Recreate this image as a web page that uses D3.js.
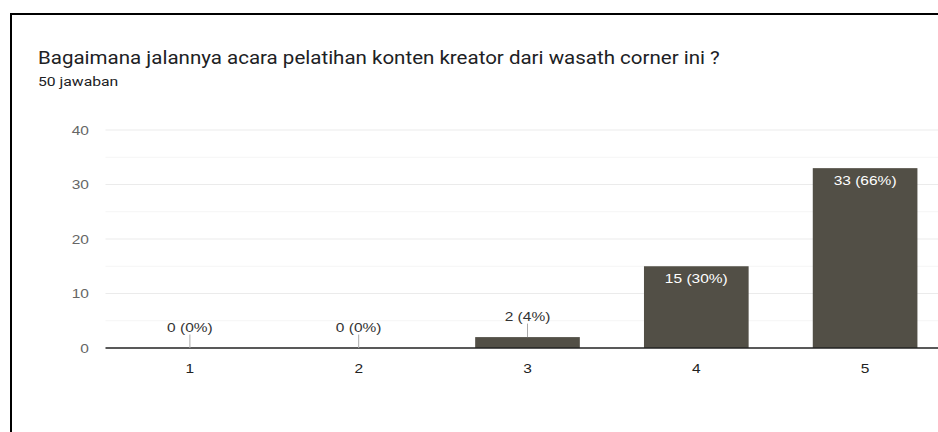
<!DOCTYPE html>
<html><head><meta charset="utf-8">
<script src="https://cdn.jsdelivr.net/npm/d3@7"></script>
<style>html,body{margin:0;padding:0;background:#fff;overflow:hidden}</style>
</head><body>
<script>
const categories = ["1","2","3","4","5"];
const counts = [0,0,2,15,33];
const percents = ["0%","0%","4%","30%","66%"];
const yTicks = [0,10,20,30,40];
const minorTicks = [5,15,25,35];
const title = "Bagaimana jalannya acara pelatihan konten kreator dari wasath corner ini ?";
const subtitle = "50 jawaban";

const W = 938, H = 432;
const svg = d3.select("body").append("svg").attr("width", W).attr("height", H);
const SX = 1.24;
const font = "Arial, 'Liberation Sans', sans-serif";

function txt(parent, x, y, s, opts) {
  const sx = opts.sx || SX;
  const t = parent.append("text")
    .attr("transform", `translate(${x},${y}) scale(${sx},1)`)
    .attr("text-anchor", opts.anchor || "start")
    .attr("font-family", opts.family || font)
    .attr("font-size", opts.size || 12.5)
    .attr("fill", opts.fill || "#333")
    .text(s);
  return t;
}

svg.append("rect").attr("x",11).attr("y",14).attr("width",1000).attr("height",600)
  .attr("fill","#fff").attr("stroke","#000").attr("stroke-width",2);

txt(svg, 38, 64, title, {family:"Roboto, Arial, sans-serif", size:18, fill:"#202124", sx:1.14});
txt(svg, 38, 85.5, subtitle, {family:"Roboto, Arial, sans-serif", size:12, fill:"#202124", sx:1.31});

const x0 = 105.5, x1 = 949.5, yTop = 130, yBase = 348;
const x = d3.scaleBand().domain(categories).range([x0,x1]).paddingInner(0.38).paddingOuter(0.19);
const y = d3.scaleLinear().domain([0,40]).range([yBase,yTop]);

const g = svg.append("g");
g.selectAll("line.minor").data(minorTicks).join("line")
  .attr("x1",x0).attr("x2",W).attr("y1",d=>y(d)).attr("y2",d=>y(d))
  .attr("stroke","#f5f5f5").attr("stroke-width",1);
g.selectAll("line.major").data(yTicks.filter(d=>d>0)).join("line")
  .attr("x1",x0).attr("x2",W).attr("y1",d=>y(d)).attr("y2",d=>y(d))
  .attr("stroke","#ebebeb").attr("stroke-width",1.2);

// y axis labels via d3 axis ticks
const yAxis = d3.axisLeft(y).tickValues(yTicks).tickSize(0).tickPadding(0);
const ya = svg.append("g").attr("transform","translate(89,0)").call(yAxis);
ya.select(".domain").remove();
ya.selectAll(".tick text")
  .attr("x",0).attr("dy","0.33em")
  .attr("transform",`scale(${SX},1)`)
  .attr("font-family",font).attr("font-size",12.5).attr("fill","#666");

const data = categories.map((c,i)=>({c, v:counts[i], p:percents[i]}));
const bw = x.bandwidth();

g.selectAll("rect.bar").data(data.filter(d=>d.v>0)).join("rect")
  .attr("x",d=>x(d.c)).attr("y",d=>y(d.v)).attr("width",bw).attr("height",d=>yBase-y(d.v))
  .attr("fill","#524f46");

svg.append("line").attr("x1",x0).attr("x2",W).attr("y1",yBase).attr("y2",yBase)
  .attr("stroke","#222").attr("stroke-width",1.5);

const xAxis = d3.axisBottom(x).tickSize(0).tickPadding(0);
const xa = svg.append("g").attr("transform",`translate(0,${yBase})`).call(xAxis);
xa.select(".domain").remove();
xa.selectAll(".tick text")
  .attr("y",25).attr("dy",0)
  .attr("transform",`scale(${SX},1)`)
  .attr("font-family",font).attr("font-size",12.5).attr("fill","#222");

data.forEach(d=>{
  const cx = x(d.c)+bw/2;
  const lbl = `${d.v} (${d.p})`;
  if (d.v < 5) {
    const top = y(d.v);
    svg.append("line").attr("x1",cx).attr("x2",cx).attr("y1",top).attr("y2",top-13.5)
      .attr("stroke","#aaa").attr("stroke-width",1);
    txt(svg, cx, top-16.3, lbl, {anchor:"middle", fill:"#333"});
  } else {
    txt(svg, cx, y(d.v)+17, lbl, {anchor:"middle", fill:"#fff"});
  }
});
</script>
</body></html>
